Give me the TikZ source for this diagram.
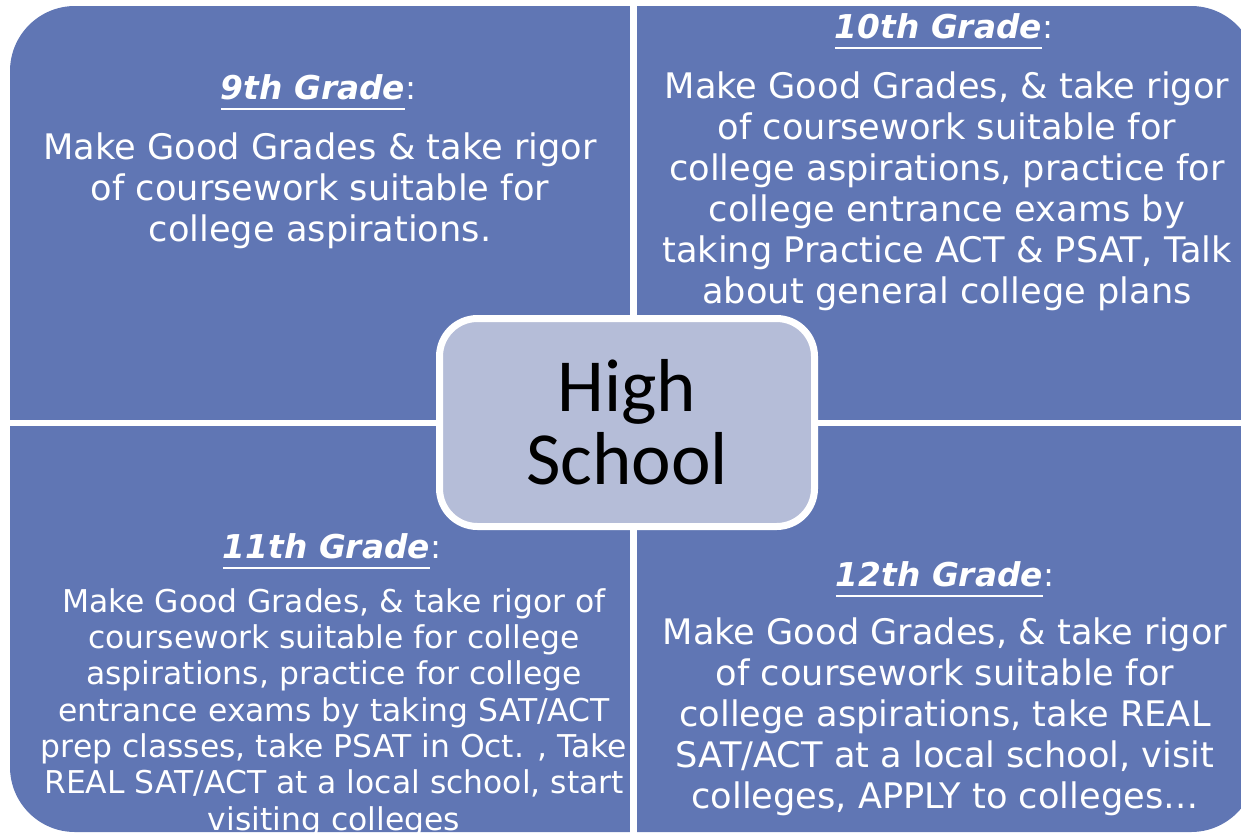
\documentclass[tikz,border=0pt]{standalone}
\usepackage{fontspec}
\setmainfont{DejaVu Sans}
\newfontfamily\hsfont{Carlito}
\definecolor{quadblue}{RGB}{96,118,180}
\definecolor{centerfill}{RGB}{181,189,216}
\newcommand\hdrul[1]{\setbox0\hbox{#1}\rlap{\rule[-11pt]{\wd0}{2.5pt}}\box0}
\begin{document}
\begin{tikzpicture}[x=1pt,y=-1pt,
  quad/.style={fill=quadblue},
  gapbar/.style={fill=white},
  hdr/.style={text=white, anchor=base, inner sep=0pt, font=\fontsize{32.8}{38}\selectfont},
  body/.style={text=white, anchor=base, align=center, inner sep=0pt, font=\fontsize{35.2}{41}\selectfont},
  bodysmall/.style={body, font=\fontsize{31.4}{36.3}\selectfont},
  hub/.style={draw=white, line width=7pt, fill=centerfill, rounded corners=38pt,
    minimum width=375pt, minimum height=208pt, align=center, text=black,
    font=\hsfont\fontsize{75}{73}\selectfont}]
\useasboundingbox (0,0) rectangle (1241,835);
\clip (0,0) rectangle (1241,835);
\fill[quad, rounded corners=65pt] (10,6) rectangle (1256,832);
\fill[gapbar] (630,0) rectangle (637,835);
\fill[gapbar] (0,420) rectangle (1241,426);

% multi-line body nodes: base anchor = baseline of the last line
\node[hdr] (h9) at (318.5,99) {\hdrul{\textbf{\textit{9th Grade}}}:};
\node[body] (b9) at (320,241) {Make Good Grades \& take rigor\\of coursework suitable for\\college aspirations.};

\node[hdr] (h10) at (944,38) {\hdrul{\textbf{\textit{10th Grade}}}:};
\node[body] (b10) at (947,303) {Make Good Grades, \& take rigor\\of coursework suitable for\\college aspirations, practice for\\college entrance exams by\\taking Practice ACT \& PSAT, Talk\\about general college plans};

\node[hdr] (h11) at (332,558) {\hdrul{\textbf{\textit{11th Grade}}}:};
\node[bodysmall] (b11) at (334,830) {Make Good Grades, \& take rigor of\\coursework suitable for college\\aspirations, practice for college\\entrance exams by taking SAT/ACT\\prep classes, take PSAT in Oct. , Take\\REAL SAT/ACT at a local school, start\\visiting colleges};

\node[hdr] (h12) at (945,586) {\hdrul{\textbf{\textit{12th Grade}}}:};
\node[body] (b12) at (945,808) {Make Good Grades, \& take rigor\\of coursework suitable for\\college aspirations, take REAL\\SAT/ACT at a local school, visit\\colleges, APPLY to colleges…};

\node[hub] (hs) at (627,422.5) {High\\School};
\end{tikzpicture}
\end{document}
